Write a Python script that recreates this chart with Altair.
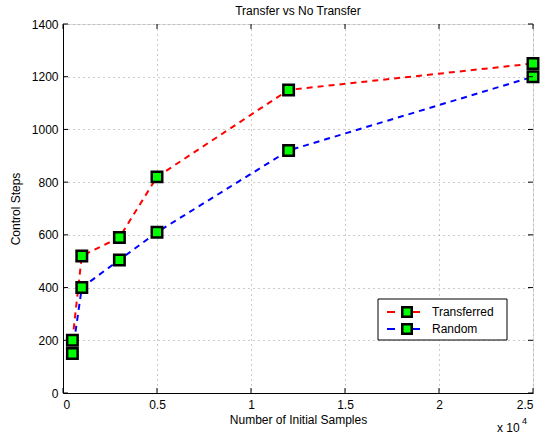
import altair as alt
import pandas as pd

samples = [500, 1000, 3000, 5000, 12000, 25000]
transferred = [200, 520, 590, 820, 1150, 1250]
random_steps = [150, 400, 505, 610, 920, 1200]
series_names = ["Transferred", "Random"]
series_colors = ["#ff0000", "#0000ff"]
x_ticks = [0, 5000, 10000, 15000, 20000, 25000]
y_ticks = [0, 200, 400, 600, 800, 1000, 1200, 1400]

W, H = 470, 369
FONT = "Liberation Sans"

rows = []
for s, t in zip(samples, transferred):
    rows.append({"samples": s, "steps": t, "series": "Transferred"})
for s, r in zip(samples, random_steps):
    rows.append({"samples": s, "steps": r, "series": "Random"})
df = pd.DataFrame(rows)

xs = alt.Scale(domain=[0, 25000], nice=False, zero=False)
ys = alt.Scale(domain=[0, 1400], nice=False, zero=False)
cs = alt.Scale(domain=series_names, range=series_colors)

x_axis = alt.Axis(values=x_ticks, labelExpr="datum.value / 10000", title="Number of Initial Samples",
                  grid=True, gridDash=[1, 4], gridColor="#999", gridWidth=1,
                  ticks=False, labelPadding=6, titlePadding=4, domainColor="black",
                  labelFont=FONT, titleFont=FONT, labelFontSize=12, titleFontSize=12,
                  titleFontWeight="normal", labelColor="black", titleColor="black")
y_axis = alt.Axis(values=y_ticks, format="d", title="Control Steps",
                  grid=True, gridDash=[1, 4], gridColor="#999", gridWidth=1,
                  ticks=False, labelPadding=5, titlePadding=9, domainColor="black",
                  labelFont=FONT, titleFont=FONT, labelFontSize=12, titleFontSize=12,
                  titleFontWeight="normal", labelColor="black", titleColor="black")

base = alt.Chart(df)
lines = base.mark_line(strokeDash=[6, 5], strokeWidth=2).encode(
    x=alt.X("samples:Q", scale=xs, axis=x_axis),
    y=alt.Y("steps:Q", scale=ys, axis=y_axis),
    color=alt.Color("series:N", scale=cs, legend=None),
    order="samples:Q",
)
points = base.mark_square(size=110, filled=True, color="#00ff00", stroke="black",
                          strokeWidth=2.5, opacity=1).encode(
    x=alt.X("samples:Q", scale=xs),
    y=alt.Y("steps:Q", scale=ys),
)

xt = alt.Chart(pd.DataFrame({"t": x_ticks}))
yt = alt.Chart(pd.DataFrame({"t": y_ticks}))
xtick_b = xt.mark_rule(color="black", strokeWidth=1).encode(
    x=alt.X("t:Q", scale=xs), y=alt.value(H), y2=alt.value(H - 5))
xtick_t = xt.mark_rule(color="black", strokeWidth=1).encode(
    x=alt.X("t:Q", scale=xs), y=alt.value(0), y2=alt.value(5))
ytick_l = yt.mark_rule(color="black", strokeWidth=1).encode(
    y=alt.Y("t:Q", scale=ys), x=alt.value(0), x2=alt.value(5))
ytick_r = yt.mark_rule(color="black", strokeWidth=1).encode(
    y=alt.Y("t:Q", scale=ys), x=alt.value(W), x2=alt.value(W - 5))

# legend
leg_df = pd.DataFrame({"series": series_names, "ypos": [288, 305]})
leg = alt.Chart(leg_df)
leg_box = alt.Chart(pd.DataFrame({"a": [0]})).mark_rect(
    fill="white", stroke="black", strokeWidth=1).encode(
    x=alt.value(315), x2=alt.value(444), y=alt.value(275), y2=alt.value(316))
leg_line = leg.mark_rule(strokeWidth=2, strokeDash=[8, 17]).encode(
    x=alt.value(324), x2=alt.value(365), y=alt.Y("ypos:Q", scale=None),
    color=alt.Color("series:N", scale=cs, legend=None))
leg_sq = leg.mark_square(size=90, filled=True, color="#00ff00", stroke="black",
                         strokeWidth=2.5, opacity=1).encode(
    x=alt.value(344), y=alt.Y("ypos:Q", scale=None))
leg_txt = leg.mark_text(align="left", baseline="middle", font=FONT, fontSize=12,
                        color="black").encode(
    x=alt.value(369), y=alt.Y("ypos:Q", scale=None), text="series:N")

exp_a = alt.Chart(pd.DataFrame({"s": ["x 10"]})).mark_text(
    align="left", baseline="middle", font=FONT, fontSize=12, color="black").encode(
    x=alt.value(434), y=alt.value(404), text="s:N")
exp_b = alt.Chart(pd.DataFrame({"s": ["4"]})).mark_text(
    align="left", baseline="middle", font=FONT, fontSize=9, color="black").encode(
    x=alt.value(459), y=alt.value(397), text="s:N")

chart = alt.layer(
    lines, points, xtick_b, xtick_t, ytick_l, ytick_r,
    leg_box, leg_line, leg_sq, leg_txt, exp_a, exp_b,
).properties(
    width=W, height=H,
    title=alt.TitleParams("Transfer vs No Transfer", font=FONT, fontSize=12,
                          fontWeight="normal", anchor="middle", offset=0, color="black"),
    autosize=alt.AutoSizeParams(type="none"),
    padding={"left": 63, "top": 24, "right": 14, "bottom": 41},
).configure_view(stroke="black", strokeWidth=1).configure(background="white")

chart.save("out.html", embed_options={"renderer": "svg", "actions": False})
